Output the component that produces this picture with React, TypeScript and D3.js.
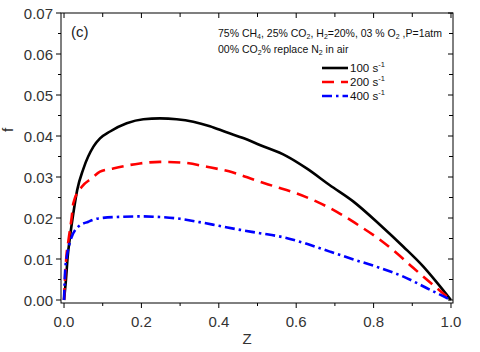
import React from "react";
import * as d3 from "d3";

const zBlack = [0, 0.005, 0.0095, 0.0155, 0.024, 0.034, 0.05, 0.076, 0.093, 0.119, 0.162, 0.205, 0.248, 0.291, 0.334, 0.377, 0.42, 0.463, 0.506, 0.575, 0.627, 0.687, 0.748, 0.817, 0.877, 0.928, 0.959, 1.0];
const fBlack = [0, 0.0049, 0.0106, 0.0154, 0.0211, 0.0268, 0.032, 0.0374, 0.0394, 0.0411, 0.0431, 0.0441, 0.0443, 0.0441, 0.0435, 0.0424, 0.0409, 0.0395, 0.0378, 0.0351, 0.0321, 0.028, 0.024, 0.0183, 0.013, 0.0082, 0.0048, 0];

const zRed = [0, 0.003, 0.006, 0.011, 0.02, 0.024, 0.046, 0.072, 0.093, 0.127, 0.196, 0.248, 0.308, 0.369, 0.437, 0.498, 0.541, 0.601, 0.653, 0.705, 0.76, 0.812, 0.86, 0.903, 0.941, 1.0];
const fRed = [0, 0.006, 0.0105, 0.0142, 0.0203, 0.0236, 0.0276, 0.0297, 0.0313, 0.0321, 0.0333, 0.0337, 0.0335, 0.0325, 0.0311, 0.0291, 0.0278, 0.026, 0.024, 0.0215, 0.0183, 0.015, 0.0114, 0.0078, 0.0047, 0];

const zBlue = [0, 0.003, 0.008, 0.015, 0.037, 0.063, 0.089, 0.149, 0.2, 0.235, 0.3, 0.35, 0.4, 0.455, 0.506, 0.567, 0.627, 0.687, 0.748, 0.808, 0.877, 0.946, 1.0];
const fBlue = [0, 0.0073, 0.011, 0.014, 0.0179, 0.0191, 0.0199, 0.0203, 0.0204, 0.0203, 0.0198, 0.019, 0.0181, 0.0171, 0.0163, 0.0153, 0.0137, 0.0118, 0.0099, 0.0081, 0.0057, 0.0025, 0];

const xMajor = [0, 0.2, 0.4, 0.6, 0.8, 1.0];
const xMinor = [0.1, 0.3, 0.5, 0.7, 0.9];
const xTickLabels = ["0.0", "0.2", "0.4", "0.6", "0.8", "1.0"];
const yMajor = [0, 0.01, 0.02, 0.03, 0.04, 0.05, 0.06, 0.07];
const yMinor = [0.005, 0.015, 0.025, 0.035, 0.045, 0.055, 0.065];
const yTickLabels = ["0.00", "0.01", "0.02", "0.03", "0.04", "0.05", "0.06", "0.07"];

const seriesNames = ["100", "200", "400"];

const FONT = "'Liberation Sans', Arial, sans-serif";

export default function App() {
  const L = 61, R = 453, T = 13, B = 303;
  const x = d3.scaleLinear().domain([-0.0078, 1.0052]).range([L, R]);
  const y = d3.scaleLinear().domain([-0.00073, 0.07]).range([B, T]);
  const line = d3
    .line<[number, number]>()
    .x((d) => x(d[0]))
    .y((d) => y(d[1]))
    .curve(d3.curveMonotoneX);

  const series = [
    { z: zBlack, f: fBlack, color: "#000000", dash: "none" },
    { z: zRed, f: fRed, color: "#ff0000", dash: "12,7" },
    { z: zBlue, f: fBlue, color: "#0000ff", dash: "10,4,2.5,4" },
  ];

  const tickColor = "#000";
  const labelColor = "#333";

  return (
    <svg
      width={480}
      height={352}
      style={{ position: "absolute", left: 0, top: 0, background: "#fff" }}
      fontFamily={FONT}
    >
      <rect x={0} y={0} width={480} height={352} fill="#fff" />
      {series.map((s, i) => (
        <path
          key={i}
          d={line(s.z.map((z, j) => [z, s.f[j]] as [number, number])) || ""}
          fill="none"
          stroke={s.color}
          strokeWidth={2.6}
          strokeDasharray={s.dash}
        />
      ))}
      <rect x={L} y={T} width={R - L} height={B - T} fill="none" stroke="#000" strokeWidth={1} />
      {xMajor.map((v, i) => (
        <g key={"xM" + i}>
          <line x1={x(v)} x2={x(v)} y1={B} y2={B + 5} stroke={tickColor} />
          <line x1={x(v)} x2={x(v)} y1={T} y2={T + 5} stroke={tickColor} />
          <text x={x(v)} y={327} textAnchor="middle" fontSize={15} fill={labelColor}>
            {xTickLabels[i]}
          </text>
        </g>
      ))}
      {xMinor.map((v, i) => (
        <g key={"xm" + i}>
          <line x1={x(v)} x2={x(v)} y1={B} y2={B + 3} stroke={tickColor} />
          <line x1={x(v)} x2={x(v)} y1={T} y2={T + 4} stroke={tickColor} />
        </g>
      ))}
      {yMajor.map((v, i) => (
        <g key={"yM" + i}>
          <line x1={L - 5} x2={L} y1={y(v)} y2={y(v)} stroke={tickColor} />
          <line x1={R - 5} x2={R} y1={y(v)} y2={y(v)} stroke={tickColor} />
          <text x={53} y={y(v) + 5.5} textAnchor="end" fontSize={15} fill={labelColor}>
            {yTickLabels[i]}
          </text>
        </g>
      ))}
      {yMinor.map((v, i) => (
        <g key={"ym" + i}>
          <line x1={L - 3} x2={L} y1={y(v)} y2={y(v)} stroke={tickColor} />
          <line x1={R - 4} x2={R} y1={y(v)} y2={y(v)} stroke={tickColor} />
        </g>
      ))}
      <text x={247} y={344} textAnchor="middle" fontSize={15} fill={labelColor}>
        Z
      </text>
      <text transform="translate(13,130) rotate(-90)" textAnchor="middle" fontSize={15} fill={labelColor}>
        f
      </text>
      <text x={71} y={37} fontSize={15} fill="#222">
        (c)
      </text>
      <text x={218} y={37} fontSize={10.5} fill="#111">
        75% CH<tspan fontSize={7} dy={2}>4</tspan>
        <tspan dy={-2}>, 25% CO</tspan>
        <tspan fontSize={7} dy={2}>2</tspan>
        <tspan dy={-2}>, H</tspan>
        <tspan fontSize={7} dy={2}>2</tspan>
        <tspan dy={-2}>=20%, 03 % O</tspan>
        <tspan fontSize={7} dy={2}>2</tspan>
        <tspan dy={-2}> ,P=1atm</tspan>
      </text>
      <text x={218} y={53} fontSize={10.5} fill="#111">
        00% CO<tspan fontSize={7} dy={2}>2</tspan>
        <tspan dy={-2}>% replace N</tspan>
        <tspan fontSize={7} dy={2}>2</tspan>
        <tspan dy={-2}> in air</tspan>
      </text>
      {series.map((s, i) => (
        <g key={"lg" + i}>
          <line
            x1={322}
            x2={348}
            y1={68 + i * 14}
            y2={68 + i * 14}
            stroke={s.color}
            strokeWidth={2.6}
            strokeDasharray={s.dash}
          />
          <text x={350} y={72 + i * 14} fontSize={11.5} fill="#111">
            {seriesNames[i]} s<tspan fontSize={7.5} dy={-5}>-1</tspan>
          </text>
        </g>
      ))}
    </svg>
  );
}
